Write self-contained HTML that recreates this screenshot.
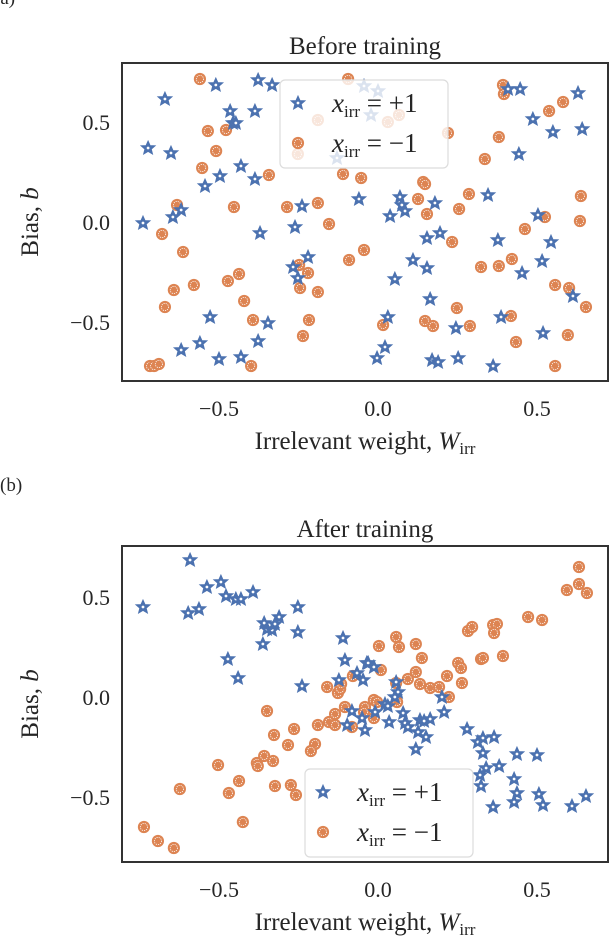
<!DOCTYPE html>
<html><head><meta charset="utf-8"><style>
body{margin:0;background:#fff}
svg text{font-family:"Liberation Serif",serif;fill:#262626}
</style></head><body>
<svg id="fig" width="610" height="938" viewBox="0 0 610 938" xmlns="http://www.w3.org/2000/svg">
<defs>
<g id="star"><path d="M0,-6.8 L2,-2.3 6.8,-2.1 3.1,1.1 4.3,5.9 0,3.3 -4.3,5.9 -3.1,1.1 -6.8,-2.1 -2,-2.3Z" fill="#4c72b0" stroke="#4c72b0" stroke-width="1.1"/><circle r="1.4" fill="#fff"/></g>
<g id="dot"><circle r="6.1" fill="#dd8452"/><circle r="3.6" fill="none" stroke="#fff" stroke-width="0.8" stroke-dasharray="1.2 1"/></g>
</defs>
<text x="-6" y="4" font-size="19">(a)</text>
<text x="0" y="491" font-size="19">(b)</text>
<g id="pa"></g>
<g id="pb"></g>
</svg>
<script>
// Panel (a) data: before training
const aBlueX=[-0.67,-0.51,-0.377,-0.333,-0.465,-0.387,-0.456,-0.447,-0.723,-0.651,-0.431,-0.497,-0.544,-0.387,-0.619,-0.645,-0.739,-0.371,-0.261,-0.239,-0.06,-0.22,-0.267,-0.252,-0.528,-0.346,-0.377,-0.56,-0.619,-0.5,-0.431,0.409,0.447,0.629,0.487,0.55,0.642,0.443,0.346,0.069,0.075,0.085,0.179,0.038,0.503,0.154,0.195,0.377,0.544,0.11,0.154,0.453,0.516,0.053,0.613,0.164,0.031,0.245,0.387,0.519,0.022,-0.003,0.17,0.189,0.252,0.362,-0.044,0,-0.022,-0.129];
const aBlueY=[0.615,0.685,0.71,0.685,0.555,0.555,0.495,0.495,0.37,0.345,0.28,0.23,0.18,0.215,0.06,0.025,-0.005,-0.055,-0.025,0.08,0.115,-0.175,-0.225,-0.28,-0.475,-0.505,-0.595,-0.605,-0.64,-0.685,-0.675,0.665,0.665,0.645,0.515,0.45,0.465,0.34,0.135,0.125,0.085,0.055,0.095,0.03,0.035,-0.08,-0.055,-0.09,-0.1,-0.19,-0.23,-0.255,-0.195,-0.285,-0.37,-0.385,-0.475,-0.53,-0.475,-0.555,-0.625,-0.68,-0.69,-0.7,-0.68,-0.72,0.68,0.655,0.535,0.32];
const aOrX=[-0.56,-0.535,-0.478,-0.509,-0.553,-0.343,-0.632,-0.453,-0.286,-0.189,-0.679,-0.154,-0.613,-0.044,-0.091,-0.248,-0.22,-0.437,-0.472,-0.579,-0.642,-0.245,-0.189,-0.67,-0.421,-0.393,-0.217,-0.236,-0.399,-0.717,-0.704,-0.689,-0.11,-0.053,-0.094,0.393,0.396,0.582,0.538,0.38,0.22,0.336,0.142,0.148,0.126,0.286,0.255,0.154,0.525,0.638,0.635,0.462,0.233,0.324,0.38,0.421,0.557,0.601,0.654,0.248,0.148,0.173,0.289,0.418,0.016,0.597,0.434,0.557,-0.189,0.031,0.066,-0.252];
const aOrY=[0.715,0.455,0.46,0.355,0.27,0.235,0.085,0.075,0.075,0.095,-0.06,-0.01,-0.15,-0.14,-0.19,-0.215,-0.255,-0.26,-0.295,-0.315,-0.34,-0.33,-0.35,-0.425,-0.395,-0.49,-0.49,-0.57,-0.72,-0.72,-0.72,-0.71,0.24,0.22,0.715,0.685,0.64,0.6,0.555,0.425,0.445,0.315,0.2,0.19,0.115,0.14,0.065,0.04,0.025,0.13,0.005,-0.035,-0.1,-0.225,-0.22,-0.185,-0.315,-0.33,-0.425,-0.43,-0.495,-0.52,-0.52,-0.47,-0.515,-0.565,-0.6,-0.72,0.51,0.5,0.535,0.34];
// Panel (b) data: after training
const bBlueX=[-0.591,-0.739,-0.597,-0.563,-0.538,-0.494,-0.478,-0.447,-0.431,-0.393,-0.252,-0.311,-0.358,-0.349,-0.333,-0.324,-0.252,-0.362,-0.472,-0.44,-0.239,-0.11,-0.104,-0.035,-0.066,-0.047,-0.123,-0.082,-0.05,-0.097,-0.041,-0.031,-0.013,0.057,0.063,0.053,0.022,0.031,-0.009,0.035,0.079,0.085,0.094,0.132,0.145,0.164,0.126,0.151,0.119,0.201,0.208,0.28,0.314,0.33,0.365,0.33,0.34,0.321,0.324,0.381,0.437,0.5,0.428,0.437,0.428,0.362,0.506,0.519,0.61,0.654];
const bBlueY=[0.685,0.45,0.42,0.44,0.55,0.575,0.505,0.49,0.49,0.525,0.45,0.4,0.37,0.34,0.335,0.365,0.325,0.265,0.19,0.095,0.055,0.295,0.185,0.17,0.12,0.085,0.085,-0.07,-0.105,-0.14,-0.165,0.17,0.15,0.075,0.025,0,-0.035,-0.045,-0.075,-0.125,-0.08,-0.13,-0.15,-0.115,-0.12,-0.11,-0.175,-0.2,-0.26,0,-0.075,-0.16,-0.225,-0.205,-0.2,-0.28,-0.355,-0.39,-0.445,-0.345,-0.285,-0.29,-0.41,-0.48,-0.525,-0.55,-0.485,-0.54,-0.545,-0.495];
const bOrX=[-0.736,-0.692,-0.642,-0.623,-0.425,-0.503,-0.469,-0.437,-0.381,-0.378,-0.358,-0.33,-0.324,-0.274,-0.258,-0.349,-0.327,-0.264,-0.283,-0.198,-0.211,-0.189,-0.154,-0.135,-0.135,-0.104,-0.082,-0.041,-0.044,-0.16,-0.126,-0.119,-0.116,-0.079,-0.013,-0.003,-0.013,0.009,0.003,0.057,0.066,0.119,0.138,0.119,0.094,0.057,0.06,0.132,0.164,0.192,0.223,0.217,0.264,0.252,0.261,0.283,0.296,0.324,0.33,0.393,0.362,0.374,0.365,0.472,0.516,0.594,0.632,0.632,0.657];
const bOrY=[-0.65,-0.72,-0.755,-0.46,-0.625,-0.34,-0.48,-0.42,-0.33,-0.345,-0.295,-0.32,-0.445,-0.44,-0.49,-0.07,-0.19,-0.16,-0.24,-0.235,-0.27,-0.14,-0.125,-0.14,-0.085,-0.05,-0.15,-0.05,-0.075,0.05,0.02,0.04,0.065,0.105,-0.015,-0.025,-0.105,0.135,0.255,0.3,0.25,0.265,0.195,0.125,0.09,0.07,-0.025,0.065,0.045,0.05,0,0.105,0.07,0.17,0.145,0.33,0.35,0.19,0.195,0.205,0.36,0.365,0.32,0.4,0.385,0.535,0.65,0.565,0.52];
const xTicks=[-0.5,0.0,0.5];
const yTicks=[0.5,0.0,-0.5];
const tickText=["\u22120.5","0.0","0.5"];
const yTickText=["0.5","0.0","\u22120.5"];

const NS="http://www.w3.org/2000/svg";
function mk(tag,attrs,parent){const e=document.createElementNS(NS,tag);for(const k in attrs)e.setAttribute(k,attrs[k]);parent.appendChild(e);return e;}
const X0=122,X1=608;
function sx(v){return 378+v*318;}

function panel(g,top,bottom,zeroY,title,bx,by,ox,oy,leg,pfx){
  function sy(v){return zeroY-v*200;}
  const t=mk('text',{x:365,y:top-9,'font-size':25,'text-anchor':'middle'},g);t.textContent=title;
  
  
  const plot=mk('g',{},g);
  
  
  for(let i=0;i<ox.length;i++){const u=mk('use',{href:'#dot',x:sx(ox[i]),y:sy(oy[i])},plot);
    
    }
  for(let i=0;i<bx.length;i++){const u=mk('use',{href:'#star',x:sx(bx[i]),y:sy(by[i])},plot);
    
    }
  const lg=mk('g',{},g);
  
  
  mk('rect',{x:leg[0],y:leg[1],width:168,height:88,rx:5,fill:'rgba(255,255,255,0.8)',stroke:'#dcdcdc','stroke-width':1.2},lg);
  const labs=[['#star','+1'],['#dot','\u22121']];
  labs.forEach((l,i)=>{
    const yy=leg[1]+23+i*40;
    const e=mk('g',{},lg);
    
    
    mk('use',{href:l[0],x:leg[0]+18,y:yy},e);
    const tx=mk('text',{x:leg[0]+52,y:yy+9,'font-size':27},e);
    tx.innerHTML='<tspan font-style="italic">x</tspan><tspan font-size="17" dy="5">irr</tspan><tspan dy="-5"> = '+l[1]+'</tspan>';
  });
  mk('rect',{x:X0,y:top,width:X1-X0,height:bottom-top,fill:'none',stroke:'#333','stroke-width':2},g);
  xTicks.forEach((v,i)=>{const tt=mk('text',{x:sx(v),y:bottom+35,'font-size':22,'text-anchor':'middle'},g);tt.textContent=tickText[i];
    
    });
  yTicks.forEach((v,i)=>{const tt=mk('text',{x:110,y:sy(v)+8,'font-size':22,'text-anchor':'end'},g);tt.textContent=yTickText[i];
    
    });
  const xl=mk('text',{x:365,y:bottom+68,'font-size':25,'text-anchor':'middle'},g);
  xl.innerHTML='Irrelevant weight, <tspan font-style="italic">W</tspan><tspan font-size="17" dy="5">irr</tspan>';
  
  
  const cy=(top+bottom)/2;
  const yl=mk('text',{x:0,y:0,'font-size':25,'text-anchor':'middle',transform:'translate(38,'+cy+') rotate(-90)'},g);
  yl.innerHTML='Bias, <tspan font-style="italic">b</tspan>';
  
  
}
panel(document.getElementById('pa'),63,381,222,'Before training',aBlueX,aBlueY,aOrX,aOrY,[280,80],'panel-a');
panel(document.getElementById('pb'),546,862,697,'After training',bBlueX,bBlueY,bOrX,bOrY,[305,769],'panel-b');
</script>
</body></html>
